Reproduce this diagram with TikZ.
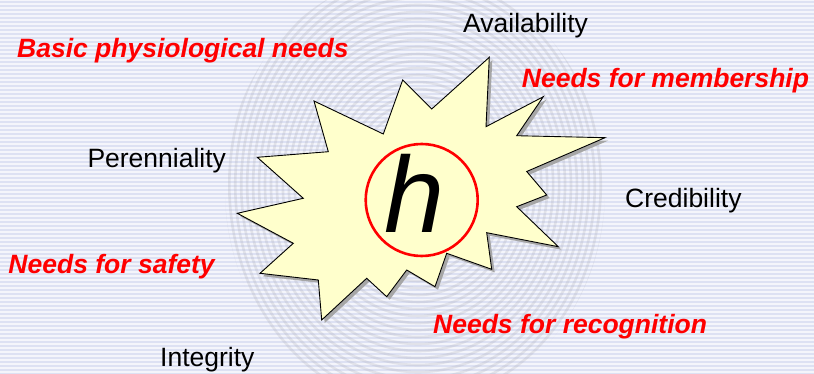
\documentclass[tikz,border=0pt]{standalone}
\usepackage{fontspec}
\setmainfont{Liberation Sans}
\definecolor{bgbase}{RGB}{244,245,251}
\definecolor{bgstripe}{RGB}{221,225,243}
\definecolor{starfill}{RGB}{255,255,204}
\definecolor{needred}{RGB}{255,0,0}
\definecolor{printgray}{RGB}{170,172,182}
\begin{document}
\begin{tikzpicture}[x=1pt,y=-1pt,
  need/.style={anchor=base west,inner sep=0pt,text=needred,font=\fontsize{26.5}{30}\selectfont\bfseries\itshape},
  quality/.style={anchor=base west,inner sep=0pt,text=black,font=\fontsize{26.5}{30}\selectfont},
  starshape/.style={fill=starfill,draw=black,line width=0.9pt,line join=miter},
  starshadow/.style={fill=gray!70,draw=none}]
\useasboundingbox (0,0) rectangle (814,374);
% background
\fill[bgbase] (0,0) rectangle (814,374);
\foreach \k in {0,...,93} {
  \fill[bgstripe] (0,{4*\k+1}) rectangle (814,{4*\k+2.6});
}
% faint fingerprint
\begin{scope}
\clip (415,190) ellipse [x radius=190, y radius=215];
\foreach \r in {12,19,...,230} {
  \draw[printgray,opacity=0.25,line width=2.6pt] (418,185) ellipse [x radius=\r*0.85, y radius=\r];
}
\end{scope}
% starburst shadow and body
\def\starpath{(489.3,57.3) -- (486,126.7) -- (543.3,96.7) -- (516.7,135.7) -- (605,137.7) -- (526.7,171.5) -- (546.7,195) -- (516.7,206.7) -- (558.3,246.7) -- (486.7,232.7) -- (491.7,269.3) -- (446.7,253.3) -- (435,286.7) -- (406.7,270) -- (386.7,296.7) -- (366.7,278.3) -- (321.7,320) -- (318.3,280) -- (260,273.3) -- (293.3,243.3) -- (237.3,213.3) -- (303.3,198.3) -- (257.3,157.3) -- (328.3,151.7) -- (314,101) -- (383.3,134) -- (402.7,80) -- (431.7,109) -- cycle}
\fill[starshadow,shift={(3,3)}] \starpath;
\path[starshape] \starpath;
% circle with h
\node[circle,draw=needred,line width=2.6pt,fill=starfill,minimum size=112pt,inner sep=0pt] (hc) at (421.7,200) {};
\node[anchor=base,inner sep=0pt,font=\fontsize{108}{120}\selectfont\itshape] (h) at (415,232.7) {h};
% labels
\node[need] (basic) at (17,57.3) {Basic physiological needs};
\node[quality] (avail) at (463,32.3) {Availability};
\node[need] (member) at (521.7,87.3) {Needs for membership};
\node[quality] (peren) at (87.3,167.3) {Perenniality};
\node[quality] (cred) at (625,207.3) {Credibility};
\node[need] (safety) at (8.3,273.3) {Needs for safety};
\node[need] (recog) at (433,333.3) {Needs for recognition};
\node[quality] (integ) at (160,366.7) {Integrity};
\end{tikzpicture}
\end{document}
